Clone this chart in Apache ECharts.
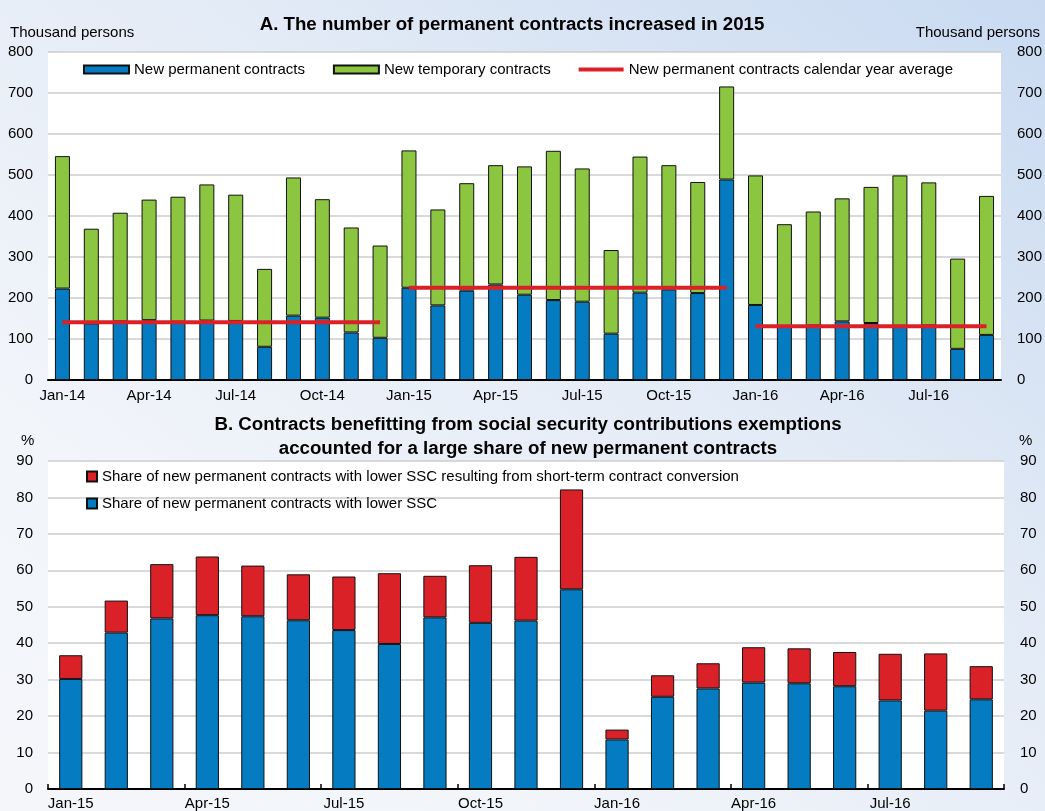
<!DOCTYPE html>
<html>
<head>
<meta charset="utf-8">
<script src="https://cdn.jsdelivr.net/npm/echarts@6/dist/echarts.min.js"></script>
<style>
html,body{margin:0;padding:0;width:1045px;height:811px;overflow:hidden;
background:linear-gradient(to bottom left,#c9daf1 0%,#e3ebf6 40%,#f2f5fa 75%,#f4f6fa 100%);}
#chart{width:1045px;height:811px;}
</style>
</head>
<body>
<div id="chart"></div>
<script>
// ---------- Panel A data (thousand persons) ----------
var monthsA = ['Jan-14','Feb-14','Mar-14','Apr-14','May-14','Jun-14','Jul-14','Aug-14','Sep-14','Oct-14','Nov-14','Dec-14',
  'Jan-15','Feb-15','Mar-15','Apr-15','May-15','Jun-15','Jul-15','Aug-15','Sep-15','Oct-15','Nov-15','Dec-15',
  'Jan-16','Feb-16','Mar-16','Apr-16','May-16','Jun-16','Jul-16','Aug-16','Sep-16'];
var permanentA = [223,138,143,146,142,145,144,81,157,152,116,103,
  225,182,218,233,208,195,191,113,213,221,212,489,
  183,130,133,143,139,132,133,76,110];
var temporaryA = [323,231,265,294,305,332,308,190,337,289,256,225,
  335,234,262,291,313,364,325,204,332,303,271,227,
  316,250,278,300,332,367,349,220,339];
var yearAverage = [141,225,131]; // 2014, 2015, 2016

// ---------- Panel B data (%) ----------
var monthsB = ['Jan-15','Feb-15','Mar-15','Apr-15','May-15','Jun-15','Jul-15','Aug-15','Sep-15','Oct-15','Nov-15','Dec-15',
  'Jan-16','Feb-16','Mar-16','Apr-16','May-16','Jun-16','Jul-16','Aug-16','Sep-16'];
var lowerSSC = [30.2,42.9,46.8,47.7,47.4,46.3,43.6,39.8,47.1,45.6,46.2,54.8,
  13.6,25.3,27.6,29.2,29.0,28.2,24.3,21.5,24.6];
var conversionSSC = [6.5,8.8,14.9,16.1,13.9,12.6,14.7,19.4,11.4,15.8,17.5,27.4,
  2.7,5.9,6.9,9.7,9.6,9.4,12.8,15.7,9.1];

var ticksA = {min:0,max:800,interval:100};
var ticksB = {min:0,max:90,interval:10};

var BLUE = '#057bc1', GREEN = '#8cc641', RED = '#db2128';
var FONT = 'Liberation Sans, Arial, sans-serif';
var AVG_NAME = 'New permanent contracts calendar year average';
var CONV_NAME = 'Share of new permanent contracts with lower SSC resulting from short-term contract conversion';
var LOW_NAME = 'Share of new permanent contracts with lower SSC';

function avgSeries(yearIdx){
  var d = monthsA.map(function(m, i){
    return Math.floor(i/12) === yearIdx ? yearAverage[yearIdx] : null;
  });
  return {
    name: AVG_NAME, type:'line', xAxisIndex:0, yAxisIndex:0, data:d,
    symbol:'none', connectNulls:false, z:5,
    lineStyle:{color:RED,width:4,cap:'butt'}, itemStyle:{color:RED}
  };
}

var axisLabelStyle = {color:'#000',fontSize:15,fontFamily:FONT};

var option = {
  animation:false,
  backgroundColor:'transparent',
  textStyle:{fontFamily:FONT},
  title:[
    {text:'A. The number of permanent contracts increased in 2015', left:507, textAlign:'center', top:10,
     textStyle:{fontSize:18.7,fontWeight:'bold',color:'#000',fontFamily:FONT}},
    {text:'B. Contracts benefitting from social security contributions exemptions\naccounted for a large share of new permanent contracts',
     left:523, textAlign:'center', top:408,
     textStyle:{fontSize:18.7,fontWeight:'bold',color:'#000',fontFamily:FONT,lineHeight:24}}
  ],
  graphic:[
    {type:'text',left:10,top:25,style:{text:'Thousand persons',font:'15px '+FONT,fill:'#000'}},
    {type:'text',right:5,top:25,style:{text:'Thousand persons',font:'15px '+FONT,fill:'#000'}},
    {type:'text',left:21,top:433,style:{text:'%',font:'15px '+FONT,fill:'#000'}},
    {type:'text',left:1019,top:433,style:{text:'%',font:'15px '+FONT,fill:'#000'}}
  ],
  legend:[
    {left:78, top:57, itemWidth:45, itemHeight:8, itemGap:28,
     textStyle:{fontSize:15,color:'#000',fontFamily:FONT},
     data:[
       {name:'New permanent contracts', icon:'rect'},
       {name:'New temporary contracts', icon:'rect'},
       {name:AVG_NAME, icon:'path://M0,0 L45,0 L45,4 L0,4 Z', itemStyle:{color:RED, borderWidth:0}}
     ]},
    {left:81, top:464, orient:'vertical', itemWidth:10, itemHeight:10, itemGap:12,
     textStyle:{fontSize:15,color:'#000',fontFamily:FONT},
     data:[{name:CONV_NAME, icon:'rect'},{name:LOW_NAME, icon:'rect'}]}
  ],
  grid:[
    {left:48, right:42, top:52, height:328, show:true, backgroundColor:'#fff', borderWidth:0},
    {left:48, right:41, top:461, height:328, show:true, backgroundColor:'#fff', borderWidth:0}
  ],
  xAxis:[
    {type:'category', gridIndex:0, data:monthsA, boundaryGap:true,
     axisLine:{lineStyle:{color:'#000',width:2}}, axisTick:{show:false},
     axisLabel:Object.assign({interval:2, margin:8}, axisLabelStyle)},
    {type:'category', gridIndex:1, data:monthsB, boundaryGap:true,
     axisLine:{lineStyle:{color:'#000',width:2}},
     axisTick:{show:true, inside:true, length:5, interval:2, lineStyle:{color:'#000',width:1.5}},
     axisLabel:Object.assign({interval:2, margin:7}, axisLabelStyle)}
  ],
  yAxis:[
    {type:'value', gridIndex:0, position:'left', min:ticksA.min, max:ticksA.max, interval:ticksA.interval,
     axisLine:{show:false}, axisTick:{show:false},
     splitLine:{lineStyle:{color:'#cccccc',width:1.5}},
     axisLabel:Object.assign({margin:15}, axisLabelStyle)},
    {type:'value', gridIndex:0, position:'right', min:ticksA.min, max:ticksA.max, interval:ticksA.interval,
     axisLine:{show:false}, axisTick:{show:false}, splitLine:{show:false},
     axisLabel:Object.assign({margin:16}, axisLabelStyle)},
    {type:'value', gridIndex:1, position:'left', min:ticksB.min, max:ticksB.max, interval:ticksB.interval,
     axisLine:{show:false}, axisTick:{show:false},
     splitLine:{lineStyle:{color:'#cccccc',width:1.5}},
     axisLabel:Object.assign({margin:15}, axisLabelStyle)},
    {type:'value', gridIndex:1, position:'right', min:ticksB.min, max:ticksB.max, interval:ticksB.interval,
     axisLine:{show:false}, axisTick:{show:false}, splitLine:{show:false},
     axisLabel:Object.assign({margin:16}, axisLabelStyle)}
  ],
  series:[
    {name:'New permanent contracts', type:'bar', stack:'A', xAxisIndex:0, yAxisIndex:0, data:permanentA,
     barWidth:'52%', itemStyle:{color:BLUE, borderColor:'#111', borderWidth:1}},
    {name:'New temporary contracts', type:'bar', stack:'A', xAxisIndex:0, yAxisIndex:0, data:temporaryA,
     barWidth:'52%', itemStyle:{color:GREEN, borderColor:'#111', borderWidth:1}},
    avgSeries(0), avgSeries(1), avgSeries(2),
    {name:LOW_NAME, type:'bar', stack:'B', xAxisIndex:1, yAxisIndex:2, data:lowerSSC,
     barWidth:'51%', itemStyle:{color:BLUE, borderColor:'#111', borderWidth:1}},
    {name:CONV_NAME, type:'bar', stack:'B', xAxisIndex:1, yAxisIndex:2, data:conversionSSC,
     barWidth:'51%', itemStyle:{color:RED, borderColor:'#111', borderWidth:1}}
  ]
};

var chart = echarts.init(document.getElementById('chart'), null, {renderer:'canvas'});
chart.setOption(option);
</script>
</body>
</html>
